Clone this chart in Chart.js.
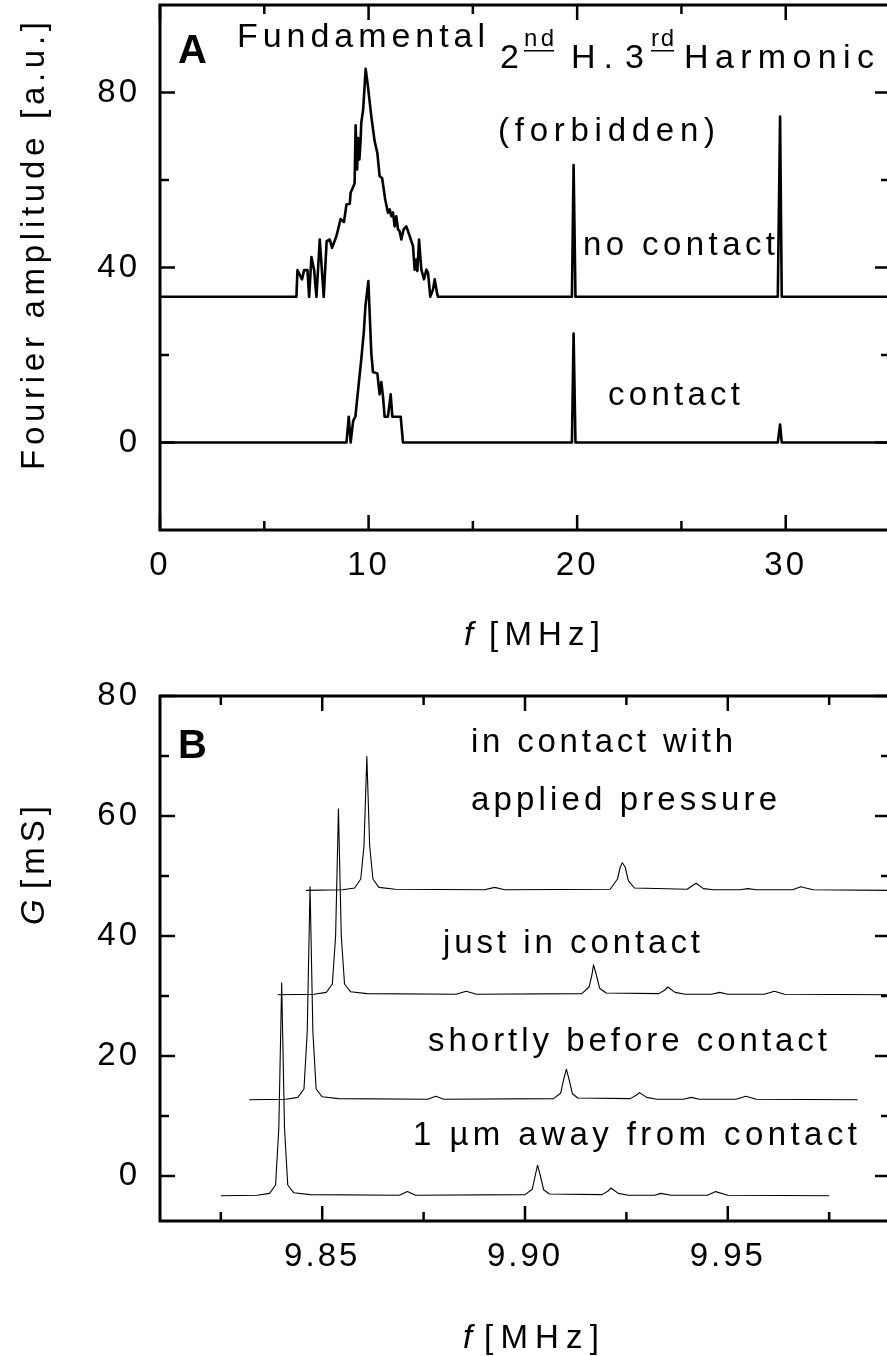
<!DOCTYPE html>
<html>
<head>
<meta charset="utf-8">
<script src="https://cdn.jsdelivr.net/npm/chart.js@4.4.1/dist/chart.umd.min.js"></script>
<style>
html, body { margin: 0; padding: 0; background: #fff; overflow: hidden; width: 887px; height: 1356px; }
canvas { position: absolute; left: 0; }
#chartA { top: 0; }
#chartB { top: 680px; }
</style>
</head>
<body>
<canvas id="chartA" width="900" height="680"></canvas>
<canvas id="chartB" width="900" height="676"></canvas>
<script>
// ---- panel A: Fourier spectra (f in MHz, amplitude in a.u.) ----
const noContactF = [0, 6.54, 6.59, 6.81, 6.91, 7.07, 7.15, 7.26, 7.39, 7.50, 7.66, 7.85, 7.99, 8.14, 8.25, 8.46, 8.66, 8.82, 8.94, 9.10,
  9.14, 9.33, 9.38, 9.45, 9.50, 9.56, 9.62, 9.65, 9.74, 9.86, 9.97, 10.13, 10.29, 10.42, 10.53, 10.65, 10.80, 10.93, 11.01, 11.09,
  11.17, 11.25, 11.33, 11.41, 11.49, 11.57, 11.68, 11.81, 11.97, 12.13, 12.21, 12.29, 12.34, 12.42, 12.53, 12.66, 12.77, 12.85, 12.96, 13.09,
  13.17, 13.28, 13.33, 19.75, 19.83, 19.92, 29.62, 29.73, 29.81, 35];
const noContactA = [33.3, 33.3, 39.4, 37.3, 39.4, 39.4, 33.3, 42.4, 39.4, 33.3, 46.4, 33.3, 46.0, 46.4, 44.5, 47.2, 51.1, 50.4, 54.4, 54.6,
  57.1, 59.2, 72.5, 62.4, 69.6, 64.7, 69.3, 73.1, 76.1, 85.4, 81.4, 74.6, 68.9, 66.2, 60.9, 60.4, 55.5, 52.5, 53.3, 51.7,
  52.6, 49.4, 51.7, 48.7, 48.3, 46.4, 48.7, 49.4, 47.2, 44.9, 39.5, 41.8, 39.2, 46.4, 39.5, 37.3, 39.5, 38.8, 33.3, 35.0,
  37.3, 34.2, 33.3, 33.3, 63.4, 33.3, 33.3, 74.5, 33.3, 33.3];
const contactF = [0, 8.94, 9.05, 9.14, 9.26, 9.37, 9.50, 9.65, 9.77, 9.85, 9.99, 10.13, 10.21, 10.42, 10.53, 10.61, 10.69, 10.77, 10.93, 11.06,
  11.14, 11.54, 11.65, 19.75, 19.83, 19.92, 29.62, 29.73, 29.81, 35];
const contactA = [0, 0, 5.9, 0, 4.9, 6.0, 12.1, 19.0, 25.1, 31.2, 36.9, 20.5, 16.1, 15.8, 11.0, 13.8, 10.6, 5.9, 5.9, 11.0,
  5.9, 5.9, 0, 0, 24.9, 0, 0, 4.1, 0, 0];
const xMajorA = [0, 10, 20, 30];
const xMinorA = [5, 15, 25];
const yMajorA = [0, 40, 80];
const yMinorA = [20, 60];

// ---- panel B: conductance G (mS) vs f (MHz), four offset traces ----
const awayF = [9.825, 9.834, 9.837, 9.8385, 9.8393, 9.840, 9.8407, 9.8415, 9.843, 9.847, 9.869, 9.871, 9.873, 9.900, 9.9018, 9.9025,
  9.9031, 9.9038, 9.9046, 9.906, 9.919, 9.9205, 9.9212, 9.923, 9.9255, 9.932, 9.9335, 9.936, 9.945, 9.947, 9.950, 9.975];
const awayG = [-3.3, -3.2, -2.9, -1.5, 8, 32.2, 8, -1.5, -2.8, -3.1, -3.2, -2.6, -3.2, -3.1, -2.2, 0,
  1.8, 0, -2.3, -3.0, -3.1, -2.5, -2.0, -2.9, -3.2, -3.2, -2.9, -3.2, -3.2, -2.6, -3.2, -3.3];
const shortlyF = [9.832, 9.841, 9.844, 9.8455, 9.8463, 9.847, 9.8477, 9.8485, 9.850, 9.854, 9.876, 9.878, 9.880, 9.907, 9.9088, 9.9095,
  9.9102, 9.9109, 9.9117, 9.913, 9.926, 9.9275, 9.9282, 9.930, 9.9325, 9.939, 9.941, 9.943, 9.952, 9.9545, 9.957, 9.982];
const shortlyG = [12.7, 12.8, 13.1, 14.5, 24, 48.2, 24, 14.5, 13.2, 12.9, 12.8, 13.3, 12.8, 12.9, 13.8, 16,
  17.8, 16, 13.7, 13.0, 12.9, 13.5, 13.9, 13.1, 12.8, 12.8, 13.1, 12.8, 12.8, 13.3, 12.8, 12.7];
const justF = [9.839, 9.848, 9.851, 9.8525, 9.8533, 9.854, 9.8547, 9.8555, 9.857, 9.861, 9.883, 9.8855, 9.888, 9.914, 9.9158, 9.9165,
  9.9169, 9.9176, 9.9184, 9.920, 9.933, 9.9345, 9.9352, 9.937, 9.9395, 9.946, 9.948, 9.950, 9.959, 9.9615, 9.964, 9.990];
const justG = [30.2, 30.3, 30.6, 32, 40, 61.2, 40, 32, 30.7, 30.4, 30.3, 30.8, 30.3, 30.4, 31.5, 33.5,
  35.2, 33.5, 31.3, 30.5, 30.4, 31.0, 31.5, 30.6, 30.3, 30.3, 30.6, 30.3, 30.3, 30.8, 30.3, 30.2];
const pressureF = [9.846, 9.855, 9.858, 9.8595, 9.8603, 9.861, 9.8617, 9.8625, 9.864, 9.868, 9.890, 9.8925, 9.895, 9.921, 9.9228, 9.9235,
  9.9240, 9.9247, 9.9255, 9.927, 9.940, 9.9415, 9.9422, 9.944, 9.9465, 9.953, 9.955, 9.957, 9.966, 9.968, 9.971, 9.990];
const pressureG = [47.6, 47.7, 48.0, 49.5, 55, 69.9, 55, 49.5, 48.1, 47.8, 47.7, 48.1, 47.7, 47.8, 49.5, 51.5,
  52.2, 51.5, 49.2, 48.0, 47.8, 48.5, 48.8, 47.9, 47.7, 47.7, 47.9, 47.7, 47.7, 48.2, 47.7, 47.6];
const xMajorB = [9.85, 9.90, 9.95];
const xMinorB = [9.825, 9.875, 9.925, 9.975];
const yMajorB = [0, 20, 40, 60, 80];
const yMinorB = [10, 30, 50, 70];

const FAMILY = '"Liberation Sans", Arial, sans-serif';

function lineSet(fs, vs, w) {
  return {
    data: fs.map((f, i) => ({ x: f, y: vs[i] })),
    borderColor: '#000', borderWidth: w, borderJoinStyle: 'round',
    pointRadius: 0, tension: 0, fill: false
  };
}

// wide tracking like the original figure text
const spacing = {
  id: 'spacing',
  beforeUpdate(c) { c.ctx.letterSpacing = '3px'; },
  beforeDraw(c) { c.ctx.letterSpacing = '3px'; }
};

// closed frame with inward ticks on all four sides
const frameTicks = {
  id: 'frameTicks',
  afterDatasetsDraw(chart) {
    const { ctx, chartArea: a, scales: { x, y } } = chart;
    ctx.save();
    ctx.strokeStyle = '#000';
    ctx.lineWidth = 3;
    ctx.strokeRect(a.left, a.top, a.right - a.left, a.bottom - a.top);
    ctx.lineWidth = 2.5;
    ctx.beginPath();
    x.ticks.forEach(t => {
      const p = x.getPixelForValue(t.value), len = t.big ? 15 : 9;
      ctx.moveTo(p, a.bottom); ctx.lineTo(p, a.bottom - len);
      ctx.moveTo(p, a.top); ctx.lineTo(p, a.top + len);
    });
    y.ticks.forEach(t => {
      const p = y.getPixelForValue(t.value), len = t.big ? 15 : 9;
      ctx.moveTo(a.left, p); ctx.lineTo(a.left + len, p);
      ctx.moveTo(a.right, p); ctx.lineTo(a.right - len, p);
    });
    ctx.stroke();
    ctx.restore();
  }
};

// free text (annotations and axis titles), optionally fitted to a width
function makeNotes(items) {
  return {
    id: 'notes',
    afterDraw(chart) {
      const ctx = chart.ctx;
      items.forEach(n => {
        ctx.save();
        ctx.fillStyle = '#000';
        ctx.font = (n.italic ? 'italic ' : '') + (n.bold ? 'bold ' : '') + n.size + 'px ' + FAMILY;
        ctx.textAlign = 'left';
        ctx.textBaseline = 'alphabetic';
        ctx.letterSpacing = '0px';
        let sp = n.sp || 0;
        if (n.w) sp = (n.w - ctx.measureText(n.t).width) / Math.max(1, n.t.length - 1);
        ctx.letterSpacing = sp + 'px';
        ctx.translate(n.x, n.y);
        if (n.rot) ctx.rotate(-Math.PI / 2);
        ctx.fillText(n.t, 0, 0);
        if (n.ul) ctx.fillRect(0, 4, n.w, 1.5);
        ctx.restore();
      });
    }
  };
}

function axis(min, max, majors, minors, fmt, pad, fit) {
  return {
    type: 'linear', min: min, max: max,
    grid: { display: false, drawTicks: false }, border: { display: false },
    afterBuildTicks: s => {
      s.ticks = majors.concat(minors).sort((p, q) => p - q)
        .map(v => ({ value: v, big: majors.includes(v) }));
    },
    afterFit: s => {
      fit(s);
      // no extra room for half labels at the ends
      s.paddingTop = 0; s.paddingBottom = 0; s.paddingLeft = 0; s.paddingRight = 0;
    },
    ticks: { autoSkip: false, maxRotation: 0, minRotation: 0, padding: pad, color: '#000',
             font: { family: FAMILY, size: 33 },
             callback: (v, i, ticks) => (ticks[i].big ? fmt(v) : '') }
  };
}

new Chart(document.getElementById('chartA'), {
  type: 'line',
  data: { datasets: [lineSet(noContactF, noContactA, 2.6), lineSet(contactF, contactA, 2.6)] },
  options: {
    responsive: false, animation: false, events: [],
    layout: { padding: { left: 0, top: 5, right: 10, bottom: 0 } },
    plugins: { legend: { display: false }, tooltip: { enabled: false } },
    scales: {
      x: axis(0, 35, xMajorA, xMinorA, v => String(v), 16, s => { s.height = 150; }),
      y: axis(-20, 100, yMajorA, yMinorA, v => String(v), 20, s => { s.width = 160; })
    }
  },
  plugins: [spacing, frameTicks, makeNotes([
    { t: 'A', x: 178, y: 63, size: 40, bold: true },
    { t: 'Fundamental', x: 237, y: 47, size: 34, w: 248 },
    { t: '2', x: 500, y: 68, size: 34 },
    { t: 'nd', x: 524, y: 46, size: 24, w: 30, ul: true },
    { t: 'H.', x: 571, y: 68, size: 34, w: 42 },
    { t: '3', x: 625, y: 68, size: 34 },
    { t: 'rd', x: 651, y: 46, size: 24, w: 23, ul: true },
    { t: 'Harmonic', x: 684, y: 68, size: 34, w: 190 },
    { t: '(forbidden)', x: 498, y: 141, size: 33, w: 217 },
    { t: 'no contact', x: 583, y: 255, size: 33, w: 192 },
    { t: 'contact', x: 608, y: 405, size: 33, w: 132 },
    { t: 'f', x: 464, y: 645, size: 33, italic: true },
    { t: '[MHz]', x: 489, y: 645, size: 33, w: 111 },
    { t: 'Fourier amplitude [a.u.]', x: 44, y: 470, size: 33, w: 448, rot: true }
  ])]
});

new Chart(document.getElementById('chartB'), {
  type: 'line',
  data: { datasets: [
    lineSet(awayF, awayG, 1.1), lineSet(shortlyF, shortlyG, 1.1),
    lineSet(justF, justG, 1.1), lineSet(pressureF, pressureG, 1.1)
  ] },
  options: {
    responsive: false, animation: false, events: [],
    layout: { padding: { left: 0, top: 16, right: 10, bottom: 0 } },
    plugins: { legend: { display: false }, tooltip: { enabled: false } },
    scales: {
      x: axis(9.81, 9.99, xMajorB, xMinorB, v => v.toFixed(2), 16, s => { s.height = 135; }),
      y: axis(-7.5, 80, yMajorB, yMinorB, v => String(v), 20, s => { s.width = 160; })
    }
  },
  plugins: [spacing, frameTicks, makeNotes([
    { t: 'B', x: 178, y: 78, size: 40, bold: true },
    { t: 'in contact with', x: 471, y: 72, size: 33, w: 262 },
    { t: 'applied pressure', x: 471, y: 130, size: 33, w: 306 },
    { t: 'just in contact', x: 443, y: 273, size: 33, w: 257 },
    { t: 'shortly before contact', x: 428, y: 371, size: 33, w: 399 },
    { t: '1 \u00b5m away from contact', x: 413, y: 465, size: 33, w: 444 },
    { t: 'f', x: 463, y: 668, size: 33, italic: true },
    { t: '[MHz]', x: 484, y: 668, size: 33, w: 115 },
    { t: 'G', x: 44, y: 245, size: 33, italic: true, rot: true },
    { t: '[mS]', x: 44, y: 209, size: 33, w: 83, rot: true }
  ])]
});
</script>
</body>
</html>
